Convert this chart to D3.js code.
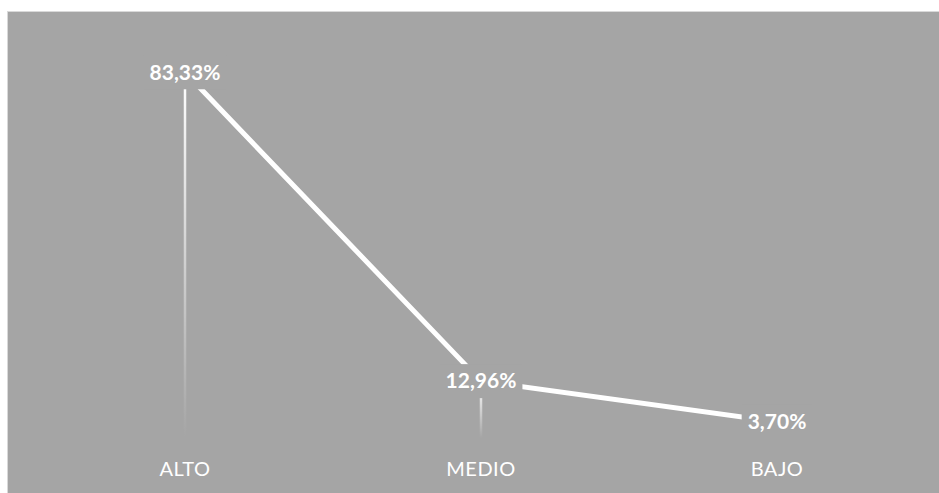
<!DOCTYPE html>
<html><head><meta charset="utf-8">
<script src="https://cdn.jsdelivr.net/npm/d3@7"></script>
<style>body{margin:0;background:#fff;}svg{display:block;}</style>
</head><body>
<svg id="chart" width="939" height="493"></svg>
<script>
const categories = ["ALTO", "MEDIO", "BAJO"];
const values = [83.33, 12.96, 3.70];
const labels = ["83,33%", "12,96%", "3,70%"];
const yDomain = [0, 90];

const W = 939, H = 493;
const bg = "#a5a5a5";
const svg = d3.select("#chart");
svg.append("rect").attr("x", 7.5).attr("y", 11.5).attr("width", W - 7).attr("height", H - 11)
  .attr("fill", bg).attr("stroke", "#d9d9d9").attr("stroke-width", 1);

const x = d3.scaleBand().domain(categories).range([37, 925]);
const y = d3.scaleLinear().domain(yDomain).range([438, 43]);
const cx = c => x(c) + x.bandwidth() / 2;
const data = categories.map((c, i) => ({c, v: values[i], l: labels[i]}));

const defs = svg.append("defs");
const grad = defs.append("linearGradient").attr("id", "fade").attr("x1", 0).attr("y1", 0).attr("x2", 0).attr("y2", 1);
grad.append("stop").attr("offset", "0%").attr("stop-color", "#fff").attr("stop-opacity", 1);
grad.append("stop").attr("offset", "100%").attr("stop-color", "#fff").attr("stop-opacity", 0);

// drop lines
svg.append("g").selectAll("rect").data(data).join("rect")
  .attr("x", d => cx(d.c) - 1.25).attr("width", 2.5)
  .attr("y", d => y(d.v)).attr("height", d => y(0) - y(d.v))
  .attr("fill", "url(#fade)");

// line
svg.append("path").datum(data)
  .attr("d", d3.line().x(d => cx(d.c)).y(d => y(d.v)))
  .attr("fill", "none").attr("stroke", "#fff").attr("stroke-width", 5).attr("stroke-linejoin", "round");

// data labels with background
const lg = svg.append("g").selectAll("g").data(data).join("g")
  .attr("transform", d => `translate(${cx(d.c)},${y(d.v)})`);
const txt = lg.append("text").text(d => d.l)
  .attr("text-anchor", "middle").attr("dy", "0.35em")
  .attr("font-family", "Lato, 'Open Sans', sans-serif").attr("font-weight", "bold")
  .attr("font-size", 21).attr("fill", "#fff");
txt.each(function() {
  const b = this.getBBox();
  d3.select(this.parentNode).insert("rect", "text")
    .attr("x", b.x - 6).attr("y", -17).attr("width", b.width + 12).attr("height", 34)
    .attr("fill", bg);
});

// category labels
svg.append("g").selectAll("text").data(categories).join("text")
  .attr("x", d => cx(d)).attr("y", 476).attr("text-anchor", "middle")
  .attr("font-family", "Lato, 'Open Sans', sans-serif").attr("font-size", 20)
  .attr("fill", "#fff").attr("letter-spacing", 0.5).text(d => d);
</script>
</body></html>
